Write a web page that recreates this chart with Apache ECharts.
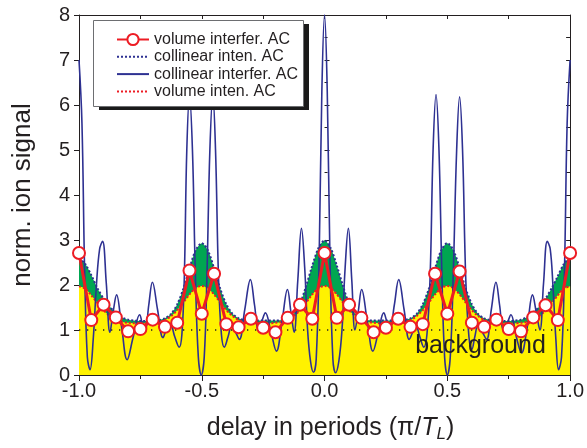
<!DOCTYPE html>
<html>
<head>
<meta charset="utf-8">
<script src="https://cdn.jsdelivr.net/npm/echarts@6/dist/echarts.min.js"></script>
<style>
html,body{margin:0;padding:0;background:#fff;}
#chart{width:587px;height:448px;}
</style>
</head>
<body>
<div id="chart"></div>
<script>
// ---------- data ----------
const xTicks = [-1.0, -0.5, 0.0, 0.5, 1.0];
const yTicks = [0, 1, 2, 3, 4, 5, 6, 7, 8];

// collinear interferometric AC (blue solid line)
const collInterfX = [
 -1.000,-0.988,-0.977,-0.966,-0.955,-0.942,-0.929,-0.916,-0.904,-0.889,-0.874,-0.861,-0.847,-0.826,-0.804,-0.779,-0.753,-0.741,-0.730,-0.716,-0.701,-0.680,-0.658,-0.643,-0.628,-0.610,-0.592,-0.581,-0.571,-0.561,-0.550,-0.538,-0.526,-0.514,-0.502,
 -0.490,-0.479,-0.467,-0.455,-0.444,-0.432,-0.420,-0.408,-0.393,-0.378,-0.362,-0.347,-0.325,-0.302,-0.285,-0.269,-0.255,-0.241,-0.218,-0.196,-0.173,-0.151,-0.137,-0.124,-0.109,-0.094,-0.081,-0.069,-0.057,-0.045,-0.034,-0.022,-0.011,
 0.000,0.011,0.022,0.034,0.045,0.058,0.071,0.084,0.097,0.111,0.124,0.137,0.151,0.174,0.197,0.219,0.241,0.254,0.266,0.284,0.302,0.324,0.345,0.359,0.372,0.388,0.404,0.417,0.430,0.442,0.454,0.466,0.478,0.489,0.500,
 0.512,0.524,0.538,0.550,0.562,0.575,0.588,0.600,0.612,0.625,0.643,0.660,0.679,0.698,0.713,0.728,0.744,0.759,0.781,0.802,0.825,0.847,0.862,0.877,0.892,0.907,0.919,0.930,0.942,0.953,0.965,0.977,0.988,1.000
];
const collInterfY = [
 7.00,5.60,2.30,0.40,0.12,0.80,2.00,2.80,2.97,2.05,0.95,1.40,1.78,1.05,0.34,0.85,1.34,1.12,1.00,1.55,2.06,1.45,0.83,1.02,1.12,0.85,0.62,0.90,2.20,5.00,6.20,5.00,2.20,0.40,0.00,
 0.40,2.20,5.00,6.20,5.00,2.20,0.90,0.62,0.85,1.10,0.95,0.79,1.45,2.12,1.55,0.97,1.20,1.38,0.95,0.53,1.20,1.90,1.40,0.95,2.10,3.26,2.40,1.00,0.30,0.06,0.35,2.60,6.30,
 8.00,6.30,2.60,0.35,0.05,0.30,1.00,2.40,3.26,2.10,1.00,1.40,1.90,1.20,0.53,0.95,1.38,1.18,1.00,1.55,2.12,1.45,0.79,0.95,1.10,0.85,0.62,0.90,2.20,5.00,6.23,5.00,2.20,0.40,0.00,
 0.40,2.20,5.00,6.18,5.00,2.15,0.85,0.57,0.85,1.10,0.95,0.79,1.45,2.06,1.55,1.00,1.15,1.34,0.85,0.49,1.05,1.78,1.40,1.00,2.05,2.97,2.80,2.00,0.80,0.12,0.40,2.30,5.60,7.00
];

// intensity ACs sampled every 0.025
const intensX = [
 -1.000,-0.975,-0.950,-0.925,-0.900,-0.875,-0.850,-0.825,-0.800,-0.775,-0.750,-0.725,-0.700,-0.675,-0.650,-0.625,-0.600,-0.575,-0.550,-0.525,
 -0.500,-0.475,-0.450,-0.425,-0.400,-0.375,-0.350,-0.325,-0.300,-0.275,-0.250,-0.225,-0.200,-0.175,-0.150,-0.125,-0.100,-0.075,-0.050,-0.025,
 0.000,0.025,0.050,0.075,0.100,0.125,0.150,0.175,0.200,0.225,0.250,0.275,0.300,0.325,0.350,0.375,0.400,0.425,0.450,0.475,
 0.500,0.525,0.550,0.575,0.600,0.625,0.650,0.675,0.700,0.725,0.750,0.775,0.800,0.825,0.850,0.875,0.900,0.925,0.950,0.975,1.000
];
// collinear intensity AC (blue dotted, green area)
const collIntY = [
 2.60,2.47,2.22,1.93,1.70,1.52,1.38,1.28,1.23,1.21,1.20,1.20,1.21,1.22,1.26,1.36,1.57,1.92,2.37,2.77,
 2.93,2.77,2.37,1.92,1.57,1.36,1.26,1.22,1.21,1.21,1.21,1.21,1.21,1.22,1.26,1.36,1.58,1.98,2.43,2.82,
 2.99,2.82,2.43,1.98,1.58,1.36,1.26,1.22,1.21,1.21,1.21,1.21,1.21,1.22,1.26,1.36,1.57,1.92,2.37,2.77,
 2.93,2.77,2.37,1.92,1.57,1.36,1.26,1.22,1.21,1.20,1.20,1.21,1.23,1.29,1.39,1.52,1.70,1.93,2.20,2.47,2.62
];
// volume intensity AC (red dotted, yellow area)
const volIntY = [
 1.97,1.92,1.77,1.60,1.44,1.31,1.23,1.18,1.16,1.15,1.15,1.15,1.16,1.18,1.22,1.31,1.44,1.61,1.79,1.93,
 1.98,1.93,1.79,1.61,1.44,1.31,1.22,1.18,1.16,1.15,1.15,1.15,1.16,1.18,1.22,1.31,1.44,1.61,1.79,1.93,
 1.98,1.93,1.79,1.61,1.44,1.31,1.22,1.18,1.16,1.15,1.15,1.15,1.16,1.18,1.22,1.31,1.44,1.61,1.79,1.93,
 1.98,1.93,1.79,1.61,1.44,1.31,1.22,1.18,1.16,1.15,1.15,1.15,1.16,1.18,1.23,1.31,1.44,1.60,1.77,1.92,1.97
];

// volume interferometric AC (red line with circles), every 0.05
const volInterfX = [
 -1.00,-0.95,-0.90,-0.85,-0.80,-0.75,-0.70,-0.65,-0.60,-0.55,-0.50,-0.45,-0.40,-0.35,-0.30,-0.25,-0.20,-0.15,-0.10,-0.05,
 0.00,0.05,0.10,0.15,0.20,0.25,0.30,0.35,0.40,0.45,0.50,0.55,0.60,0.65,0.70,0.75,0.80,0.85,0.90,0.95,1.00
];
const volInterfY = [
 2.71,1.22,1.56,1.28,0.97,1.02,1.23,1.07,1.16,2.32,1.36,2.25,1.13,1.06,1.25,1.05,0.95,1.27,1.56,1.25,
 2.71,1.27,1.56,1.27,0.95,1.05,1.25,1.07,1.13,2.25,1.36,2.30,1.16,1.07,1.23,1.02,0.97,1.28,1.55,1.22,2.71
];

const backgroundLevel = 1.0;
const backgroundLabel = 'background';
const backgroundLabelAt = [0.635, 0.65];

// ---------- chart ----------
const FONT = 'Liberation Sans, Arial, Helvetica, sans-serif';
const INK = '#231f20';
const BLUE = '#2e3192';
const RED = '#ed1c24';
const pair = (xs, ys) => xs.map((x, i) => [x, ys[i]]);

const chart = echarts.init(document.getElementById('chart'), null, {renderer: 'canvas'});

const axisCommonX = {
  type: 'value', min: -1, max: 1,
  splitLine: {show: false},
  axisLine: {show: true, onZero: false, lineStyle: {color: INK, width: 1}}
};
const axisCommonY = {
  type: 'value', min: 0, max: 8,
  splitLine: {show: false},
  axisLine: {show: true, onZero: false, lineStyle: {color: INK, width: 1}}
};

// legend frame geometry (pixels)
const LG = {left: 93, top: 20, width: 210, height: 86, dx: 6, dy: 4};

const option = {
  animation: false,
  backgroundColor: '#ffffff',
  textStyle: {fontFamily: FONT},
  grid: {left: 79, right: 15, top: 15, bottom: 72, containLabel: false},
  graphic: [
    {type: 'rect', z: 3, silent: true,
     shape: {x: LG.left + LG.dx, y: LG.top + LG.dy, width: LG.width, height: LG.height},
     style: {fill: '#1a1a1a'}},
    {type: 'rect', z: 3, silent: true,
     shape: {x: LG.left + 0.5, y: LG.top + 0.5, width: LG.width, height: LG.height},
     style: {fill: '#ffffff', stroke: '#6d6e71', lineWidth: 1}}
  ],
  legend: {
    orient: 'vertical', left: LG.left, top: LG.top,
    padding: [11, 5, 6, 23],
    itemGap: 0.3, itemWidth: 32, itemHeight: 14,
    textStyle: {fontSize: 16, lineHeight: 17, color: INK, fontFamily: FONT},
    z: 4,
    data: [
      {name: 'volume interfer. AC'},
      {name: 'collinear inten. AC', itemStyle: {opacity: 0}},
      {name: 'collinear interfer. AC', itemStyle: {opacity: 0}},
      {name: 'volume inten. AC', itemStyle: {opacity: 0}}
    ]
  },
  xAxis: [
    Object.assign({}, axisCommonX, {
      position: 'bottom', interval: 0.5,
      axisTick: {show: true, inside: false, length: 6, lineStyle: {color: INK}},
      minorTick: {show: true, splitNumber: 2, length: 4, lineStyle: {color: INK}},
      axisLabel: {fontSize: 20, color: INK, margin: 6, fontFamily: FONT,
        formatter: v => { const t = xTicks.find(k => Math.abs(k - v) < 1e-9); return t === undefined ? '' : t.toFixed(1); }},
      name: 'delay in periods (\u03c0/{i|T}{s|L})',
      nameLocation: 'middle', nameGap: 38,
      nameTextStyle: {fontSize: 25, color: INK, fontFamily: FONT, lineHeight: 30, padding: [0, 0, 0, 12],
        rich: {
          i: {fontSize: 25, fontStyle: 'italic', color: INK, fontFamily: FONT, lineHeight: 30},
          s: {fontSize: 17, fontStyle: 'italic', color: INK, fontFamily: FONT, lineHeight: 17, verticalAlign: 'bottom'}
        }}
    }),
    Object.assign({}, axisCommonX, {
      position: 'top', interval: 0.25,
      axisTick: {show: true, inside: true, length: 4, lineStyle: {color: INK}},
      axisLabel: {show: false}
    })
  ],
  yAxis: [
    Object.assign({}, axisCommonY, {
      position: 'left', interval: 1,
      axisTick: {show: true, inside: false, length: 5, lineStyle: {color: INK}},
      axisLabel: {fontSize: 20, color: INK, margin: 9, fontFamily: FONT,
        formatter: v => { const t = yTicks.find(k => Math.abs(k - v) < 1e-9); return t === undefined ? '' : String(t); }},
      name: 'norm. ion signal', nameLocation: 'middle', nameGap: 43,
      nameTextStyle: {fontSize: 26, color: INK, fontFamily: FONT}
    }),
    Object.assign({}, axisCommonY, {
      position: 'left', interval: 1, offset: 0,
      axisLine: {show: false},
      axisTick: {show: true, inside: true, length: 5, lineStyle: {color: INK}},
      minorTick: {show: true, splitNumber: 2, length: 3, lineStyle: {color: INK}},
      axisLabel: {show: false}
    }),
    Object.assign({}, axisCommonY, {
      position: 'right', interval: 0.5,
      axisTick: {show: true, inside: true, length: 4, lineStyle: {color: INK}},
      axisLabel: {show: false}
    })
  ],
  series: [
    {
      name: 'collinear inten. AC', type: 'line', xAxisIndex: 0, yAxisIndex: 0,
      data: pair(intensX, collIntY), symbol: 'none', smooth: 0.3, clip: false,
      lineStyle: {color: BLUE, width: 2, type: 'dotted'},
      itemStyle: {color: BLUE},
      areaStyle: {color: '#00a651', opacity: 1},
      z: 1
    },
    {
      name: 'volume inten. AC', type: 'line', xAxisIndex: 0, yAxisIndex: 0,
      data: pair(intensX, volIntY), symbol: 'none', smooth: 0.3, clip: false,
      lineStyle: {color: RED, width: 2, type: 'dotted'},
      itemStyle: {color: RED},
      areaStyle: {color: '#fff200', opacity: 1},
      z: 1
    },
    {
      name: 'bg', type: 'line', xAxisIndex: 0, yAxisIndex: 0,
      data: [[-1, backgroundLevel], [1, backgroundLevel]], symbol: 'none',
      lineStyle: {color: INK, width: 1.3, type: [1.3, 6.7]},
      silent: true, z: 2,
      markPoint: {
        symbol: 'circle', symbolSize: 0, silent: true,
        label: {show: true, position: 'inside', formatter: backgroundLabel, fontSize: 25, color: INK, fontFamily: FONT},
        data: [{coord: backgroundLabelAt}]
      }
    },
    {
      name: 'collinear interfer. AC', type: 'line', xAxisIndex: 0, yAxisIndex: 0,
      data: pair(collInterfX, collInterfY), symbol: 'none', smooth: 0.4, clip: false,
      lineStyle: {color: BLUE, width: 1.6},
      itemStyle: {color: BLUE},
      z: 2
    },
    {
      name: 'volume interfer. AC', type: 'line', xAxisIndex: 0, yAxisIndex: 0,
      data: pair(volInterfX, volInterfY), symbol: 'circle', symbolSize: 12, showSymbol: true, clip: false,
      lineStyle: {color: RED, width: 3},
      itemStyle: {color: '#ffffff', borderColor: RED, borderWidth: 2},
      z: 2
    }
  ]
};
chart.setOption(option);
</script>
</body>
</html>
